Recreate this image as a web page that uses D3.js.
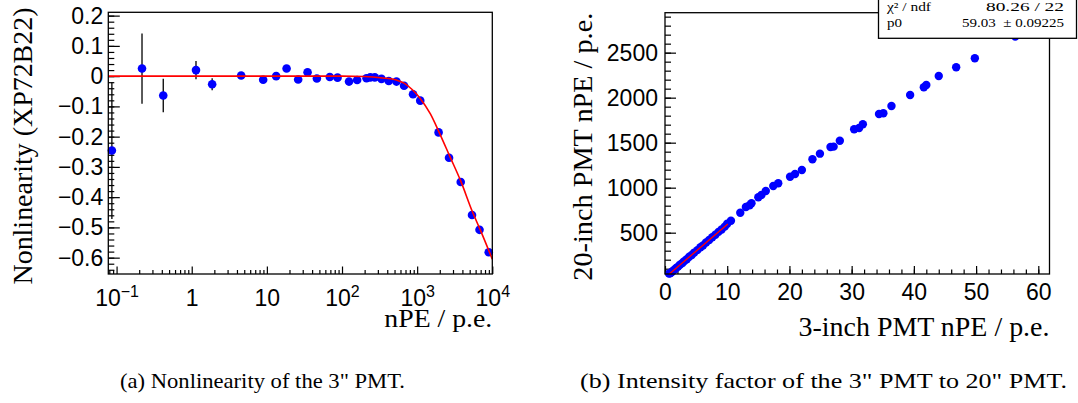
<!DOCTYPE html>
<html>
<head>
<meta charset="utf-8">
<script src="https://cdn.jsdelivr.net/npm/d3@7"></script>
<style>
  body { margin: 0; background: #fff; }
  svg { display: block; font-family: 'Liberation Serif', 'Times New Roman', serif; }
</style>
</head>
<body>
<svg width="1078" height="403"></svg>
<script>
'use strict';

// ---- panel (a): nonlinearity of the 3" PMT ----
const nlX = [0.0866, 0.218, 0.418, 1.14, 1.87, 4.55, 8.93, 13.3, 18.3, 26.1, 34.8, 46.3, 68.8, 87.2, 124, 159, 212, 238, 273, 335, 419, 531, 670, 881, 1099, 1928, 2656, 3800, 5370, 6760, 8960]
const nlY = [-0.246, 0.025, -0.064, 0.020, -0.027, 0.002, -0.012, 0.000, 0.025, -0.011, 0.013, -0.008, -0.003, -0.005, -0.018, -0.013, -0.007, -0.004, -0.004, -0.009, -0.016, -0.018, -0.032, -0.060, -0.081, -0.186, -0.270, -0.350, -0.459, -0.508, -0.582]
const nlErr = [0.226, 0.116, 0.055, 0.030, 0.020, 0.006, 0.005, 0.004, 0.004, 0.004, 0.004, 0.003, 0.003, 0.003, 0.003, 0.003, 0.003, 0.003, 0.003, 0.003, 0.003, 0.003, 0.003, 0.003, 0.003, 0.003, 0.003, 0.003, 0.003, 0.003, 0.003]
const nlFitX = [0.0776, 100, 200, 349, 531, 670, 865, 1085, 1500, 1948, 2730, 3820, 5390, 6830, 10000]
const nlFitY = [0, 0, -0.001, -0.006, -0.013, -0.023, -0.045, -0.072, -0.125, -0.184, -0.266, -0.348, -0.446, -0.505, -0.605]
const nlXTicks = [0.1, 1, 10, 100, 1000, 10000]
const nlXTickLabels = [['10', '−1'], ['1', ''], ['10', ''], ['10', '2'], ['10', '3'], ['10', '4']]
const nlYTicks = [-0.6, -0.5, -0.4, -0.3, -0.2, -0.1, 0, 0.1, 0.2]
const nlYTickLabels = ['−0.6', '−0.5', '−0.4', '−0.3', '−0.2', '−0.1', '0', '0.1', '0.2']

// ---- panel (b): 20-inch vs 3-inch PMT nPE ----
const pmt3 = [0.65, 0.8, 1.0, 1.2, 1.5, 1.8, 2.1, 2.4, 2.8, 3.1, 3.5, 3.9, 4.3, 4.7, 5.2, 5.7, 6.1, 6.6, 7.1, 7.6, 8.1, 8.6, 9.1, 9.6, 10.0, 10.6, 12.1, 13.0, 13.6, 13.9, 15.0, 15.5, 16.2, 17.4, 18.2, 20.1, 20.9, 22.0, 23.7, 24.9, 26.6, 27.1, 28.1, 30.4, 31.2, 31.8, 34.4, 35.1, 36.4, 39.4, 41.6, 42.0, 44.0, 46.8, 49.8, 56.3]
const pmt20 = [45, 49, 58, 72, 88, 107, 123, 143, 164, 184, 205, 232, 253, 279, 306, 338, 358, 391, 418, 450, 477, 509, 536, 567, 600, 633, 722, 786, 804, 827, 893, 919, 963, 1019, 1049, 1122, 1152, 1197, 1316, 1378, 1452, 1456, 1522, 1649, 1663, 1704, 1819, 1827, 1908, 2030, 2116, 2141, 2241, 2338, 2438, 2678]
const fitP0 = 59.03
const fitRange = [0.65, 10.1]
const xTicksB = [0, 10, 20, 30, 40, 50, 60]
const yTicksB = [500, 1000, 1500, 2000, 2500]
const statNames = ['χ² / ndf', 'p0']
const statValues = ['80.26 / 22', '59.03  ± 0.09225']

const captions = ['(a) Nonlinearity of the 3" PMT.', '(b) Intensity factor of the 3" PMT to 20" PMT.']

const svg = d3.select('svg')

// panel frames (pixels)
const fa = {left: 108.3, right: 492.3, top: 12.3, bottom: 274}
const fb = {left: 665, right: 1049.5, top: 12.7, bottom: 274}
const tickFont = 23

const xa = d3.scaleLog().domain([0.0776, 10000]).range([fa.left, fa.right])
const ya = d3.scaleLinear().domain([-0.654, 0.211]).range([fa.bottom, fa.top])
const xb = d3.scaleLinear().domain([0, 61.8]).range([fb.left, fb.right])
const yb = d3.scaleLinear().domain([41, 2944]).range([fb.bottom, fb.top])

function styleAxis(g) {
  g.select('.domain').remove()
  g.selectAll('.tick line').attr('stroke', '#000').attr('stroke-width', 1.2)
  g.selectAll('text').attr('fill', '#000').attr('font-size', tickFont)
}

// ---------- panel (a) ----------
const ga = svg.append('g')

// minor log ticks on x
const minorA = []
for (let e = -2; e <= 3; e++) {
  for (let m = 2; m <= 9; m++) {
    const v = m * Math.pow(10, e)
    if (v > 0.0776 && v < 10000) minorA.push(v)
  }
}
ga.append('g')
  .attr('transform', 'translate(0,' + fa.bottom + ')')
  .call(d3.axisBottom(xa).tickValues(minorA).tickSize(-4).tickFormat(''))
  .call(styleAxis)

const xAxisA = ga.append('g')
  .attr('transform', 'translate(0,' + fa.bottom + ')')
  .call(d3.axisBottom(xa).tickValues(nlXTicks).tickSize(-7.5).tickPadding(16).tickFormat(''))
  .call(styleAxis)
xAxisA.selectAll('.tick text')
  .each(function(d, i) {
    const t = d3.select(this)
    const lab = nlXTickLabels[i]
    t.append('tspan').text(lab[0])
    if (lab[1]) t.append('tspan').attr('font-size', 16).attr('dy', '-0.6em').text(lab[1])
  })

// y minor ticks every 0.02
const minorYA = d3.range(-64, 21, 2).map((d) => d / 100)
ga.append('g')
  .attr('transform', 'translate(' + fa.left + ',0)')
  .call(d3.axisLeft(ya).tickValues(minorYA).tickSize(-6).tickFormat(''))
  .call(styleAxis)
ga.append('g')
  .attr('transform', 'translate(' + fa.left + ',0)')
  .call(d3.axisLeft(ya).tickValues(nlYTicks).tickSize(-11.5).tickPadding(5)
    .tickFormat((d, i) => nlYTickLabels[i]))
  .call(styleAxis)

// error bars
const ptsA = nlX.map((x, i) => ({x: x, y: nlY[i], e: nlErr[i]}))
ga.append('g').selectAll('line')
  .data(ptsA)
  .enter().append('line')
  .attr('x1', (d) => xa(d.x))
  .attr('x2', (d) => xa(d.x))
  .attr('y1', (d) => ya(d.y - d.e))
  .attr('y2', (d) => ya(d.y + d.e))
  .attr('stroke', '#000')
  .attr('stroke-width', 1.3)

ga.append('g').selectAll('circle')
  .data(ptsA)
  .enter().append('circle')
  .attr('cx', (d) => xa(d.x))
  .attr('cy', (d) => ya(d.y))
  .attr('r', 4.3)
  .attr('fill', '#0000ff')

const fitA = nlFitX.map((x, i) => [x, nlFitY[i]])
ga.append('path')
  .attr('d', d3.line().x((d) => xa(d[0])).y((d) => ya(d[1])).curve(d3.curveMonotoneX)(fitA))
  .attr('fill', 'none')
  .attr('stroke', '#ff0000')
  .attr('stroke-width', 1.6)

ga.append('rect')
  .attr('x', fa.left).attr('y', fa.top)
  .attr('width', fa.right - fa.left).attr('height', fa.bottom - fa.top)
  .attr('fill', 'none').attr('stroke', '#000').attr('stroke-width', 1.3)

ga.append('text')
  .attr('transform', 'translate(31.5,7.5) rotate(-90)')
  .attr('text-anchor', 'end')
  .attr('font-size', 28)
  .attr('textLength', 277)
  .attr('lengthAdjust', 'spacingAndGlyphs')
  .text('Nonlinearity (XP72B22)')

ga.append('text')
  .attr('x', fa.right).attr('y', 327)
  .attr('text-anchor', 'end')
  .attr('font-size', 26)
  .attr('textLength', 108)
  .attr('lengthAdjust', 'spacingAndGlyphs')
  .text('nPE / p.e.')

// ---------- panel (b) ----------
const gb = svg.append('g')

gb.append('g')
  .attr('transform', 'translate(0,' + fb.bottom + ')')
  .call(d3.axisBottom(xb).tickValues(d3.range(0, 62, 2)).tickSize(-4.5).tickFormat(''))
  .call(styleAxis)
gb.append('g')
  .attr('transform', 'translate(0,' + fb.bottom + ')')
  .call(d3.axisBottom(xb).tickValues(xTicksB).tickSize(-8).tickPadding(10).tickFormat(d3.format('d')))
  .call(styleAxis)

gb.append('g')
  .attr('transform', 'translate(' + fb.left + ',0)')
  .call(d3.axisLeft(yb).tickValues(d3.range(100, 2901, 100)).tickSize(-6).tickFormat(''))
  .call(styleAxis)
gb.append('g')
  .attr('transform', 'translate(' + fb.left + ',0)')
  .call(d3.axisLeft(yb).tickValues(yTicksB).tickSize(-11).tickPadding(7).tickFormat(d3.format('d')))
  .call(styleAxis)

const ptsB = pmt3.map((x, i) => ({x: x, y: pmt20[i]}))
gb.append('g').selectAll('circle')
  .data(ptsB)
  .enter().append('circle')
  .attr('cx', (d) => xb(d.x))
  .attr('cy', (d) => yb(d.y))
  .attr('r', 4.2)
  .attr('fill', '#0000ff')

gb.append('line')
  .attr('x1', xb(fitRange[0])).attr('y1', yb(fitP0 * fitRange[0]))
  .attr('x2', xb(fitRange[1])).attr('y2', yb(fitP0 * fitRange[1]))
  .attr('stroke', '#ff0000')
  .attr('stroke-width', 1.4)

gb.append('rect')
  .attr('x', fb.left).attr('y', fb.top)
  .attr('width', fb.right - fb.left).attr('height', fb.bottom - fb.top)
  .attr('fill', 'none').attr('stroke', '#000').attr('stroke-width', 1.3)

gb.append('text')
  .attr('transform', 'translate(591.5,' + fb.top + ') rotate(-90)')
  .attr('text-anchor', 'end')
  .attr('font-size', 28)
  .attr('textLength', 268)
  .attr('lengthAdjust', 'spacingAndGlyphs')
  .text('20-inch PMT nPE / p.e.')

gb.append('text')
  .attr('x', fb.right).attr('y', 336)
  .attr('text-anchor', 'end')
  .attr('font-size', 27)
  .attr('textLength', 251)
  .attr('lengthAdjust', 'spacingAndGlyphs')
  .text('3-inch PMT nPE / p.e.')

// stats box
const statNameW = [44, 15]
const statValueW = [78, 102]
const stats = gb.append('g')
stats.append('rect')
  .attr('x', 878.5).attr('y', -10)
  .attr('width', 198).attr('height', 48.3)
  .attr('fill', '#fff').attr('stroke', '#000').attr('stroke-width', 1.3)
statNames.forEach((s, i) => {
  stats.append('text')
    .attr('x', 887).attr('y', 11 + i * 16)
    .attr('font-size', 12.5)
    .attr('textLength', statNameW[i])
    .attr('lengthAdjust', 'spacingAndGlyphs')
    .text(s)
  stats.append('text')
    .attr('x', 1064 - statValueW[i]).attr('y', 11 + i * 16)
    .attr('font-size', 12.5)
    .attr('textLength', statValueW[i])
    .attr('lengthAdjust', 'spacingAndGlyphs')
    .style('white-space', 'pre')
    .text(statValues[i])
})

// captions
const captionX = [120, 580]
const captionW = [285, 487]
svg.selectAll('text.caption')
  .data(captions)
  .enter().append('text')
  .classed('caption', true)
  .attr('x', (d, i) => captionX[i])
  .attr('y', 388)
  .attr('font-size', 22)
  .attr('textLength', (d, i) => captionW[i])
  .attr('lengthAdjust', 'spacingAndGlyphs')
  .text((d) => d)
</script>
</body>
</html>
